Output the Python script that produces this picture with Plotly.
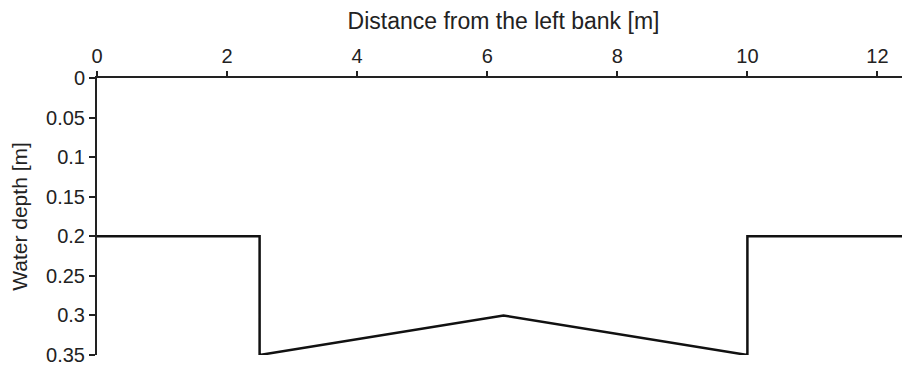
import plotly.graph_objects as go

distance = [0, 2.5, 2.5, 6.25, 10, 10, 12.5]
depth = [0.2, 0.2, 0.35, 0.3, 0.35, 0.2, 0.2]
x_ticks = [0, 2, 4, 6, 8, 10, 12]
y_ticks = [0, 0.05, 0.1, 0.15, 0.2, 0.25, 0.3, 0.35]
y_labels = ["0", "0.05", "0.1", "0.15", "0.2", "0.25", "0.3", "0.35"]

fig = go.Figure()
fig.add_trace(go.Scatter(x=distance, y=depth, mode="lines",
                         line=dict(color="#111111", width=2.5),
                         cliponaxis=False, showlegend=False))

fam = "Liberation Sans, Arial, sans-serif"
fig.update_layout(
    width=902, height=360,
    margin=dict(l=89, r=0, t=67, b=13),
    paper_bgcolor="white", plot_bgcolor="white",
    font=dict(family=fam, size=20, color="#222222"),
    xaxis=dict(side="top", range=[0, 12.5], tickvals=x_ticks,
               ticks="outside", ticklen=5, tickcolor="#222222", tickwidth=1.5,
               tickfont=dict(family=fam, size=20, color="#222222"),
               showline=True, linecolor="#222222", linewidth=2,
               showgrid=False, zeroline=False,
               title=dict(text="Distance from the left bank [m]",
                          font=dict(family=fam, size=23, color="#222222"), standoff=21)),
    yaxis=dict(range=[0.35, 0], tickvals=y_ticks, ticktext=y_labels,
               ticks="outside", ticklen=6, tickcolor="#222222", tickwidth=1.5,
               tickfont=dict(family=fam, size=20, color="#222222"),
               showline=True, linecolor="#222222", linewidth=2,
               showgrid=False, zeroline=False,
               title=dict(text="Water depth [m]",
                          font=dict(family=fam, size=21, color="#222222"), standoff=17)),
)
fig.write_html("out.html")
